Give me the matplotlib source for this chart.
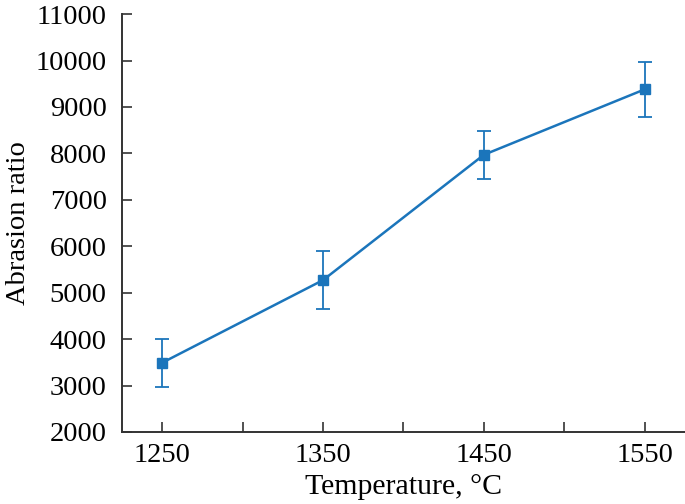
import numpy as np
import matplotlib
matplotlib.use("Agg")
from matplotlib import pyplot as plt

# data
temperature = [1250, 1350, 1450, 1550]
abrasion_ratio = [3490, 5270, 7970, 9380]
abrasion_err = [520, 620, 515, 590]
y_ticks = list(range(2000, 11001, 1000))
x_ticks = [1250, 1300, 1350, 1400, 1450, 1500, 1550]
x_labels = ["1250", "", "1350", "", "1450", "", "1550"]

plt.rcParams["font.family"] = ["Liberation Serif", "DejaVu Serif"]
plt.rcParams["font.size"] = 20.5

color = "#1b75bb"
fig = plt.figure(figsize=(6.85, 5.04), dpi=100)
ax = fig.add_axes([0.178, 0.143, 0.822, 0.829])

ax.errorbar(temperature, abrasion_ratio, yerr=abrasion_err, color=color,
            lw=1.8, marker="s", ms=7.5, capsize=5, capthick=1.3, elinewidth=1.3)

ax.set_xlim(1225, 1575)
ax.set_ylim(2000, 11000)
ax.set_yticks(y_ticks)
ax.set_xticks(x_ticks)
ax.set_xticklabels(x_labels)
ax.tick_params(direction="in", length=7, width=1.2, color="#333333")
ax.tick_params(axis="y", pad=11)
ax.tick_params(axis="x", pad=8)
for side in ["top", "right"]:
    ax.spines[side].set_visible(False)
for side in ["left", "bottom"]:
    ax.spines[side].set_linewidth(1.4)
    ax.spines[side].set_color("#333333")

ax.set_xlabel("Temperature, °C", fontsize=21.5, labelpad=4)
ax.set_ylabel("Abrasion ratio", labelpad=3)

fig.savefig("out.png", dpi=100)
